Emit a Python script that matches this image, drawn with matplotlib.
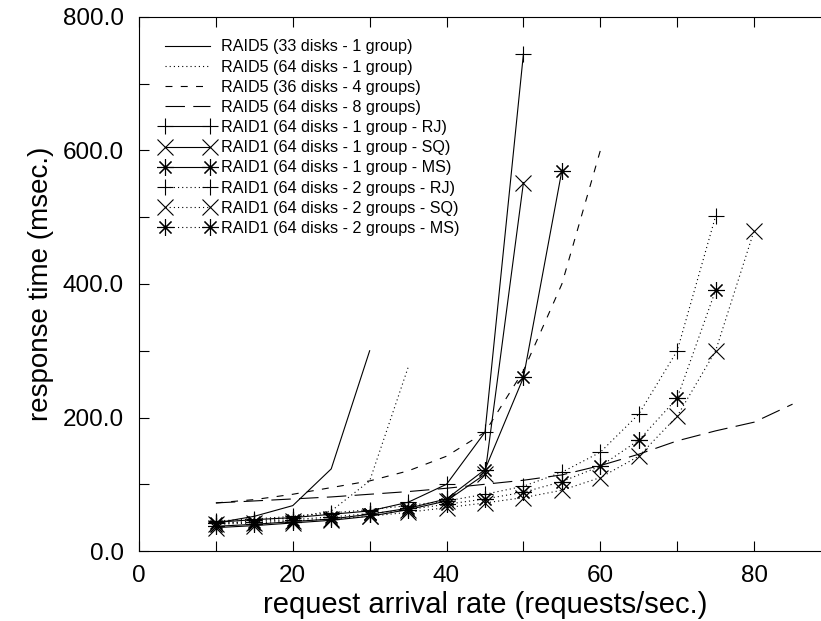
import numpy as np
import matplotlib
matplotlib.use('Agg')
import matplotlib.pyplot as plt
import matplotlib.ticker as ticker
from matplotlib import rcParams

rcParams['font.family'] = ['Liberation Sans', 'DejaVu Sans']
rcParams['lines.scale_dashes'] = False

# arrival rates (requests/sec.)
x_r5_33 = [10, 15, 20, 25, 30]
y_r5_33 = [42, 52, 68, 123, 300]

x_r5_64 = [10, 15, 20, 25, 30, 35]
y_r5_64 = [40, 45, 50, 60, 105, 275]

x_r5_36g4 = [10, 15, 20, 25, 30, 35, 40, 45, 50, 55, 60]
y_r5_36g4 = [72, 77, 85, 95, 105, 120, 142, 178, 270, 400, 600]

x_r5_64g8 = [10, 15, 20, 25, 30, 35, 40, 45, 50, 55, 60, 65, 70, 75, 80, 85]
y_r5_64g8 = [72, 75, 78, 81, 85, 89, 94, 100, 106, 114, 128, 145, 165, 180, 193, 220]

x_r1_g1 = [10, 15, 20, 25, 30, 35, 40, 45, 50]
y_r1_g1_rj = [43, 47, 50, 55, 60, 73, 100, 178, 745]
y_r1_g1_sq = [35, 38, 42, 46, 52, 62, 75, 115, 552]
x_r1_g1_ms = [10, 15, 20, 25, 30, 35, 40, 45, 50, 55]
y_r1_g1_ms = [37, 40, 44, 48, 55, 64, 78, 122, 260, 570]

x_r1_g2_rj = [10, 15, 20, 25, 30, 35, 40, 45, 50, 55, 60, 65, 70, 75]
y_r1_g2_rj = [45, 48, 52, 57, 62, 68, 75, 85, 97, 118, 148, 205, 300, 502]
x_r1_g2_sq = [10, 15, 20, 25, 30, 35, 40, 45, 50, 55, 60, 65, 70, 75, 80]
y_r1_g2_sq = [40, 42, 45, 48, 52, 58, 65, 72, 80, 91, 110, 142, 202, 300, 480]
x_r1_g2_ms = [10, 15, 20, 25, 30, 35, 40, 45, 50, 55, 60, 65, 70, 75]
y_r1_g2_ms = [42, 44, 47, 51, 56, 62, 70, 78, 88, 104, 127, 166, 229, 391]

labels = ['RAID5 (33 disks - 1 group)', 'RAID5 (64 disks - 1 group)',
          'RAID5 (36 disks - 4 groups)', 'RAID5 (64 disks - 8 groups)',
          'RAID1 (64 disks - 1 group - RJ)', 'RAID1 (64 disks - 1 group - SQ)',
          'RAID1 (64 disks - 1 group - MS)', 'RAID1 (64 disks - 2 groups - RJ)',
          'RAID1 (64 disks - 2 groups - SQ)', 'RAID1 (64 disks - 2 groups - MS)']

fig = plt.figure(figsize=(8.21, 6.21), dpi=100)
ax = fig.add_axes([139/821, 70/621, 692/821, 534/621])

lw = 0.8
dot = (0, (0.8, 2.2))
short_dash = (0, (5, 6))
long_dash = (0, (14, 6))
star = (8, 2, 0)   # + and x on top of each other
kw = dict(color='black', lw=lw, ms=12, mew=0.8)

ax.plot(x_r5_33, y_r5_33, ls='-', label=labels[0], **kw)
ax.plot(x_r5_64, y_r5_64, ls=dot, label=labels[1], **kw)
ax.plot(x_r5_36g4, y_r5_36g4, ls=short_dash, label=labels[2], **kw)
ax.plot(x_r5_64g8, y_r5_64g8, ls=long_dash, label=labels[3], **kw)
ax.plot(x_r1_g1, y_r1_g1_rj, ls='-', marker='+', label=labels[4], **kw)
ax.plot(x_r1_g1, y_r1_g1_sq, ls='-', marker='x', label=labels[5], **kw)
ax.plot(x_r1_g1_ms, y_r1_g1_ms, ls='-', marker=star, label=labels[6], **kw)
ax.plot(x_r1_g2_rj, y_r1_g2_rj, ls=dot, marker='+', label=labels[7], **kw)
ax.plot(x_r1_g2_sq, y_r1_g2_sq, ls=dot, marker='x', label=labels[8], **kw)
ax.plot(x_r1_g2_ms, y_r1_g2_ms, ls=dot, marker=star, label=labels[9], **kw)

ax.set_xlim(0, 90)
ax.set_ylim(0, 800)
ax.xaxis.set_major_locator(ticker.MultipleLocator(20))
ax.xaxis.set_minor_locator(ticker.MultipleLocator(10))
ax.yaxis.set_major_locator(ticker.MultipleLocator(200))
ax.yaxis.set_minor_locator(ticker.MultipleLocator(100))
ax.yaxis.set_major_formatter(ticker.FormatStrFormatter('%.1f'))
ax.tick_params(which='both', direction='in', top=True, right=True,
               labelsize=17.5, length=7, width=0.8)
ax.tick_params(axis='y', pad=11)
ax.tick_params(axis='x', pad=10)
for s in ax.spines.values():
    s.set_linewidth(0.8)

ax.set_xlabel('request arrival rate (requests/sec.)', fontsize=21, labelpad=3)
ax.set_ylabel('response time (msec.)', fontsize=20, labelpad=6)

ax.legend(loc='upper left', bbox_to_anchor=(0.0145, 0.979), frameon=False,
          fontsize=11.6, numpoints=2, handlelength=3.4, handletextpad=0.38,
          labelspacing=0.32, borderaxespad=0.3)

fig.savefig('out.png', dpi=100)
